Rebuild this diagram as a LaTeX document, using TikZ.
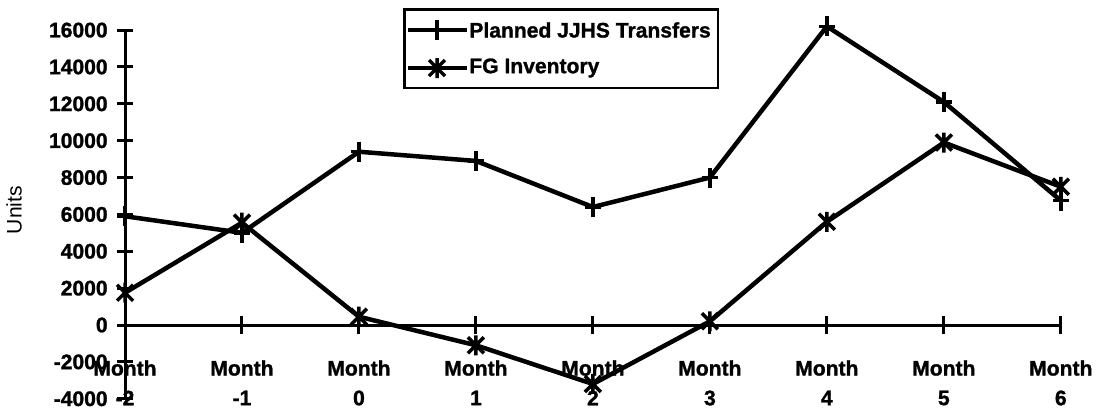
\documentclass[tikz,border=0pt]{standalone}
\usepackage{fontspec}
\setmainfont{Liberation Sans}[BoldFeatures={FakeBold=1.2}]
\begin{document}
\begin{tikzpicture}[x=0.02cm,y=-0.02cm,
  lbl/.style={font=\fontsize{12}{14}\selectfont\bfseries, inner sep=0pt},
  axisline/.style={line width=0.06cm},
  series/.style={line width=0.09cm, line join=round},
  mk/.style={line width=0.07cm},
  plusmark/.pic={\draw[mk] (0,-10) -- (0,10) (-8,0) -- (8,0);},
  starmark/.pic={\draw[mk] (-8,-8) -- (8,8) (-8,8) -- (8,-8) (0,-10) -- (0,10);}]
\useasboundingbox[fill=white] (0,0) rectangle (1099,410);

% data frame: one unit across = one month, one unit up = 1000 units
\begin{scope}[shift={(125,325)}, x=2.34cm, y=0.36875cm]
  \coordinate (O) at (0,0);
  \coordinate (Xend) at (8,0);
  \coordinate (Ytop) at (0,16);
  \coordinate (Ybot) at (0,-4);
  \foreach \i in {0,...,8} \coordinate (X\i) at (\i,0);
  \foreach \k in {-2,...,8} \coordinate (Y\k) at (0,2*\k);
  \foreach \v [count=\i from 0] in {5.9,5.0,9.4,8.9,6.4,8.0,16.2,12.1,6.75}
    \coordinate (P\i) at (\i,\v);
  \foreach \v [count=\i from 0] in {1.75,5.55,0.45,-1.1,-3.2,0.2,5.6,9.9,7.5}
    \coordinate (F\i) at (\i,\v);
\end{scope}

% axes and ticks
\draw[axisline] (Ytop) -- (Ybot);
\draw[axisline] (O) -- (Xend);
\foreach \k in {-2,...,8}
  \draw[axisline] ([xshift=-0.16cm]Y\k) -- ([xshift=0.16cm]Y\k);
\foreach \i in {1,...,8}
  \draw[axisline] ([yshift=-0.18cm]X\i) -- ([yshift=0.18cm]X\i);

% value labels
\foreach \k in {-2,...,8}
  \node[lbl, anchor=east] (yl\k) at ([xshift=-0.34cm]Y\k) {\the\numexpr\k*2000\relax};
\node[font=\fontsize{12}{14}\selectfont, rotate=90, inner sep=0pt] (units) at (14,210) {Units};

% month labels
\foreach \n [count=\i from 0] in {-2,-1,0,1,2,3,4,5,6} {
  \node[lbl] (m\i) at ([yshift=-0.86cm]X\i) {Month};
  \node[lbl] (n\i) at ([yshift=-1.46cm]X\i) {\n};
}

% series
\draw[series] (P0) \foreach \i in {1,...,8} { -- (P\i) };
\draw[series] (F0) \foreach \i in {1,...,8} { -- (F\i) };
\foreach \i in {0,...,8} {
  \pic at (P\i) {plusmark};
  \pic at (F\i) {starmark};
}

% legend
\node[draw, line width=0.05cm, anchor=north west, inner sep=0pt,
      minimum width=6.28cm, minimum height=1.58cm] (legend) at (403,8) {};
\coordinate (la1) at (408,30);  \coordinate (lb1) at (467,30);  \coordinate (lm1) at (437,30);
\coordinate (la2) at (408,68);  \coordinate (lb2) at (467,68);  \coordinate (lm2) at (437,68);
\draw[series] (la1) -- (lb1);
\draw[series] (la2) -- (lb2);
\pic at (lm1) {plusmark};
\pic at (lm2) {starmark};
\node[lbl, anchor=west] (lt1) at (469,30) {Planned JJHS Transfers};
\node[lbl, anchor=west] (lt2) at (469,68) {FG Inventory};
\end{tikzpicture}
\end{document}
